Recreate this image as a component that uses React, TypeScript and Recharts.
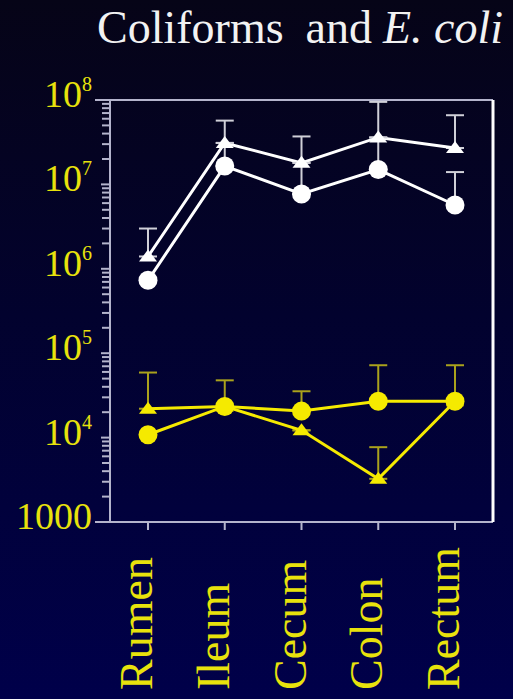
import { LineChart, Line, XAxis, YAxis, ErrorBar, ReferenceLine } from 'recharts';

const categories = ['Rumen', 'Ileum', 'Cecum', 'Colon', 'Rectum'];

// white series (coliforms)
const coliTriangle = [1.4e6, 3.1e7, 1.8e7, 3.6e7, 2.7e7];
const coliTriangleTop = [3.0e6, 5.7e7, 3.7e7, 9.5e7, 6.6e7];
const coliCircle = [7.3e5, 1.65e7, 7.7e6, 1.5e7, 5.7e6];
const coliCircleTop = [7.3e5, 3.1e7, 1.8e7, 3.6e7, 1.4e7];

// yellow series (E. coli)
const ecoliCircle = [1.08e4, 2.34e4, 2.06e4, 2.7e4, 2.7e4];
const ecoliCircleTop = [1.08e4, 4.77e4, 3.54e4, 7.2e4, 7.2e4];
const ecoliTriangle = [2.2e4, 2.34e4, 1.22e4, 3.25e3, 2.7e4];
const ecoliTriangleTop = [5.9e4, 2.34e4, 1.22e4, 7.7e3, 2.7e4];

const decades = [1e3, 1e4, 1e5, 1e6, 1e7, 1e8];
const minorSteps = [2, 3, 4, 5, 6, 7, 8, 9];

const yTicks: number[] = [];
decades.forEach((d, i) => {
  yTicks.push(d);
  if (i < decades.length - 1) minorSteps.forEach((m) => yTicks.push(d * m));
});

const data = categories.map((name, i) => ({
  name,
  wTri: coliTriangle[i],
  wTriErr: [0, coliTriangleTop[i] - coliTriangle[i]],
  wCirc: coliCircle[i],
  wCircErr: [0, coliCircleTop[i] - coliCircle[i]],
  yCirc: ecoliCircle[i],
  yCircErr: [0, ecoliCircleTop[i] - ecoliCircle[i]],
  yTri: ecoliTriangle[i],
  yTriErr: [0, ecoliTriangleTop[i] - ecoliTriangle[i]],
}));

const WHITE = '#ffffff';
const YELLOW = '#f5ea00';
const LABEL_YELLOW = '#e8e20c';
const AXIS = '#b4b4cc';
const SERIF = '"Liberation Serif", "Times New Roman", serif';

const YTick = (props: any) => {
  const { x, y, payload } = props;
  const v = payload.value;
  const exp = Math.round(Math.log10(v));
  const major = Math.abs(Math.log10(v) - exp) < 1e-9;
  const len = !major ? 8 : v === 1e3 || v === 1e8 ? 15 : 9;
  return (
    <g>
      <line x1={x - len} x2={x} y1={y} y2={y} stroke={AXIS} strokeWidth={2} />
      {major && (
        <text
          x={x - 18}
          y={y + 7}
          textAnchor="end"
          fill={LABEL_YELLOW}
          fontFamily={SERIF}
          fontSize={38}
        >
          {exp === 3 ? (
            '1000'
          ) : (
            <>
              <tspan>10</tspan>
              <tspan dy={-16} fontSize={20}>
                {exp}
              </tspan>
            </>
          )}
        </text>
      )}
    </g>
  );
};

const XTick = (props: any) => {
  const { x, y, payload } = props;
  const bx = x + 4;
  const by = y + 158;
  return (
    <text
      transform={`translate(${bx},${by}) rotate(-90)`}
      textAnchor="start"
      fill={LABEL_YELLOW}
      fontFamily={SERIF}
      fontSize={46}
    >
      {payload.value}
    </text>
  );
};

const circleDot = (color: string, r: number) => (props: any) => {
  const { cx, cy, index } = props;
  return <circle key={`c-${index}`} cx={cx} cy={cy} r={r} fill={color} />;
};

const triangleDot = (color: string) => (props: any) => {
  const { cx, cy, index } = props;
  const pts = `${cx - 9},${cy + 5} ${cx + 9},${cy + 5} ${cx},${cy - 7}`;
  return <polygon key={`t-${index}`} points={pts} fill={color} />;
};

const App = () => (
  <div
    style={{
      position: 'absolute',
      left: 0,
      top: 0,
      width: 513,
      height: 699,
      background: 'linear-gradient(to bottom, #060417 0%, #02022e 45%, #00004a 100%)',
      overflow: 'hidden',
    }}
  >
    <svg width={513} height={70} style={{ position: 'absolute', left: 0, top: 0 }}>
      <text x={97} y={43} fill="#f2f2f2" fontFamily={SERIF} fontSize={46}>
        <tspan>Coliforms</tspan>
        <tspan dx={22}>and</tspan>
        <tspan dx={11} fontStyle="italic">
          E. coli
        </tspan>
      </text>
    </svg>
    <LineChart
      width={513}
      height={699}
      data={data}
      margin={{ top: 100, right: 0, bottom: 0, left: 0 }}
    >
      <XAxis
        dataKey="name"
        type="category"
        padding={{ left: 38, right: 38 }}
        height={177}
        axisLine={{ stroke: AXIS, strokeWidth: 2 }}
        tickLine={{ stroke: AXIS, strokeWidth: 2 }}
        tickSize={8}
        tickMargin={2}
        tick={<XTick />}
        interval={0}
      />
      <YAxis
        yAxisId="left"
        type="number"
        scale="log"
        domain={[1e3, 1e8]}
        allowDataOverflow
        ticks={yTicks}
        interval={0}
        width={110}
        tickSize={0}
        tickMargin={0}
        tickLine={false}
        axisLine={{ stroke: AXIS, strokeWidth: 2 }}
        tick={<YTick />}
      />
      <YAxis
        yAxisId="right"
        orientation="right"
        type="number"
        scale="log"
        domain={[1e3, 1e8]}
        allowDataOverflow
        width={20}
        tick={false}
        tickLine={false}
        axisLine={{ stroke: WHITE, strokeWidth: 3 }}
      />
      <ReferenceLine yAxisId="left" y={1e8} stroke={AXIS} strokeWidth={2} />
      <Line
        yAxisId="left"
        dataKey="wTri"
        stroke={WHITE}
        strokeWidth={3}
        dot={triangleDot(WHITE)}
        activeDot={false}
        isAnimationActive={false}
      >
        <ErrorBar dataKey="wTriErr" direction="y" width={9} stroke="#d0d0d8" strokeWidth={2} isAnimationActive={false} />
      </Line>
      <Line
        yAxisId="left"
        dataKey="wCirc"
        stroke={WHITE}
        strokeWidth={3}
        dot={circleDot(WHITE, 9.5)}
        activeDot={false}
        isAnimationActive={false}
      >
        <ErrorBar dataKey="wCircErr" direction="y" width={9} stroke="#d0d0d8" strokeWidth={2} isAnimationActive={false} />
      </Line>
      <Line
        yAxisId="left"
        dataKey="yTri"
        stroke={YELLOW}
        strokeWidth={3}
        dot={triangleDot(YELLOW)}
        activeDot={false}
        isAnimationActive={false}
      >
        <ErrorBar dataKey="yTriErr" direction="y" width={9} stroke="#aaa21c" strokeWidth={2} isAnimationActive={false} />
      </Line>
      <Line
        yAxisId="left"
        dataKey="yCirc"
        stroke={YELLOW}
        strokeWidth={3}
        dot={circleDot(YELLOW, 9.5)}
        activeDot={false}
        isAnimationActive={false}
      >
        <ErrorBar dataKey="yCircErr" direction="y" width={9} stroke="#aaa21c" strokeWidth={2} isAnimationActive={false} />
      </Line>
    </LineChart>
  </div>
);

export default App;
